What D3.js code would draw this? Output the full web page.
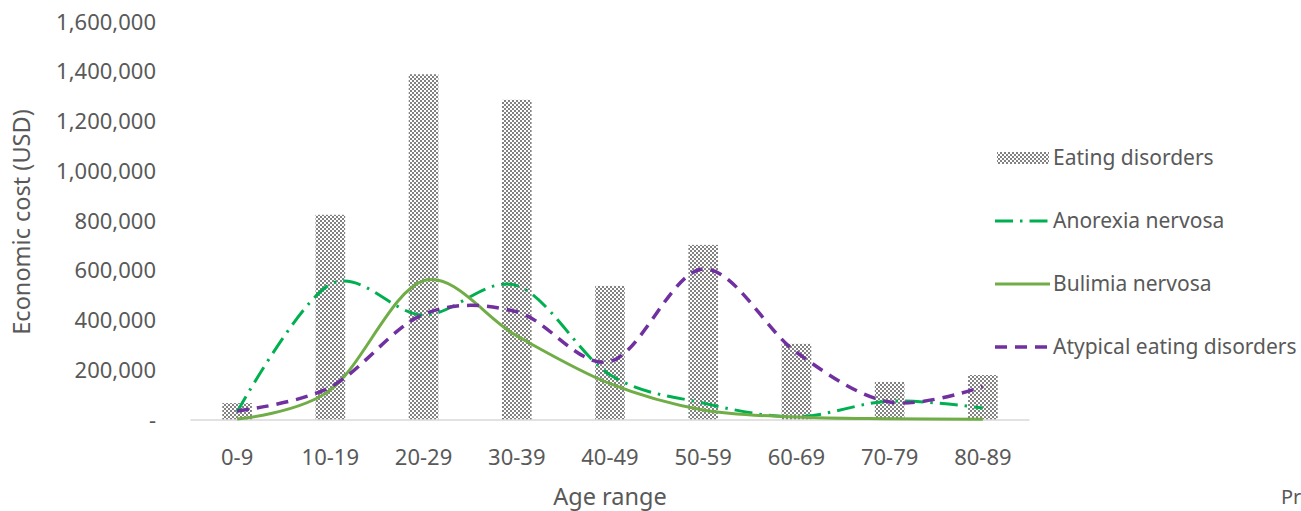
<!DOCTYPE html>
<html>
<head>
<meta charset="utf-8">
<script src="https://cdn.jsdelivr.net/npm/d3@7"></script>
<style>
  html, body { margin: 0; padding: 0; background: #fff; }
  svg { display: block; }
  text { font-family: "Noto Sans", "Open Sans", sans-serif; fill: #595959; }
</style>
</head>
<body>
<svg id="chart" width="1301" height="511"></svg>
<script>
// Age groups on the x axis
const ageRanges = ["0-9", "10-19", "20-29", "30-39", "40-49", "50-59", "60-69", "70-79", "80-89"];

// Economic cost (USD) per age group
const eatingDisorders = [68000, 825000, 1390000, 1287000, 539000, 704000, 306000, 153000, 181000];
const anorexiaNervosa = [32000, 545000, 422000, 540000, 182000, 68000, 13000, 76000, 48000];
const bulimiaNervosa = [4000, 120000, 560000, 338000, 146000, 40000, 12000, 5000, 3000];
const atypicalEatingDisorders = [36000, 132000, 425000, 435000, 235000, 607000, 272000, 72000, 134000];

const yTicks = [0, 200000, 400000, 600000, 800000, 1000000, 1200000, 1400000, 1600000];

const svg = d3.select("#chart");
const plotLeft = 190.5, plotRight = 1029.5, plotTop = 22, plotBottom = 420;

const x = d3.scaleBand().domain(ageRanges).range([plotLeft, plotRight]);
const y = d3.scaleLinear().domain([0, 1600000]).range([plotBottom, plotTop]);

// Checkerboard fill for the bars
const defs = svg.append("defs");
const pat = defs.append("pattern")
  .attr("id", "checker").attr("patternUnits", "userSpaceOnUse")
  .attr("width", 4).attr("height", 4);
pat.append("rect").attr("width", 4).attr("height", 4).attr("fill", "#ffffff");
pat.append("rect").attr("width", 2).attr("height", 2).attr("fill", "#828282");
pat.append("rect").attr("x", 2).attr("y", 2).attr("width", 2).attr("height", 2).attr("fill", "#828282");

// Y axis labels
const fmt = d3.format(",");
svg.append("g").selectAll("text").data(yTicks).join("text")
  .attr("x", 156).attr("y", d => y(d))
  .attr("dy", "0.35em")
  .attr("text-anchor", "end")
  .attr("font-size", 22)
  .text(d => d === 0 ? "-" : fmt(d));

// Bars
const barW = x.step() * 0.318;
svg.append("g").selectAll("rect").data(eatingDisorders).join("rect")
  .attr("x", (d, i) => x(ageRanges[i]) + x.bandwidth() / 2 - barW / 2)
  .attr("y", d => y(d))
  .attr("width", barW)
  .attr("height", d => y(0) - y(d))
  .attr("fill", "url(#checker)");

// Category axis line
svg.append("line")
  .attr("x1", plotLeft).attr("x2", plotRight)
  .attr("y1", y(0)).attr("y2", y(0))
  .attr("stroke", "#d9d9d9").attr("stroke-width", 1.5);

// X axis labels
svg.append("g").selectAll("text").data(ageRanges).join("text")
  .attr("x", d => x(d) + x.bandwidth() / 2)
  .attr("y", 457).attr("dy", "0.35em")
  .attr("text-anchor", "middle")
  .attr("font-size", 22)
  .text(d => d);

// Smoothed series lines
const line = d3.line()
  .x((d, i) => x(ageRanges[i]) + x.bandwidth() / 2)
  .y(d => y(d))
  .curve(d3.curveCatmullRom.alpha(0));

const series = [
  { name: "Anorexia nervosa", values: anorexiaNervosa, color: "#00b050", dash: "18 7 2.5 7", width: 3 },
  { name: "Bulimia nervosa", values: bulimiaNervosa, color: "#70ad47", dash: null, width: 3 },
  { name: "Atypical eating disorders", values: atypicalEatingDisorders, color: "#7030a0", dash: "12 8", width: 3.5 }
];

series.forEach(s => {
  svg.append("path")
    .attr("d", line(s.values))
    .attr("fill", "none")
    .attr("stroke", s.color)
    .attr("stroke-width", s.width)
    .attr("stroke-dasharray", s.dash);
});

// Axis titles
svg.append("text")
  .attr("transform", "translate(22,222) rotate(-90)")
  .attr("dy", "0.35em")
  .attr("text-anchor", "middle")
  .attr("font-size", 23.5)
  .text("Economic cost (USD)");

svg.append("text")
  .attr("x", 610).attr("y", 497).attr("dy", "0.35em")
  .attr("text-anchor", "middle")
  .attr("font-size", 23.5)
  .text("Age range");

svg.append("text")
  .attr("x", 1281).attr("y", 497).attr("dy", "0.35em")
  .attr("font-size", 20)
  .text("Pr");

// Legend
const legendY = [158, 221, 284, 347];
const lg = svg.append("g");
lg.append("rect")
  .attr("x", 997).attr("y", legendY[0] - 6).attr("width", 52).attr("height", 12)
  .attr("fill", "url(#checker)");
lg.append("text")
  .attr("x", 1053).attr("y", legendY[0]).attr("dy", "0.35em")
  .attr("font-size", 21).text("Eating disorders");

series.forEach((s, i) => {
  const ly = legendY[i + 1];
  lg.append("line")
    .attr("x1", 995).attr("x2", 1050).attr("y1", ly).attr("y2", ly)
    .attr("stroke", s.color).attr("stroke-width", s.width)
    .attr("stroke-dasharray", s.dash);
  lg.append("text")
    .attr("x", 1053).attr("y", ly).attr("dy", "0.35em")
    .attr("font-size", 21).text(s.name);
});
</script>
</body>
</html>
